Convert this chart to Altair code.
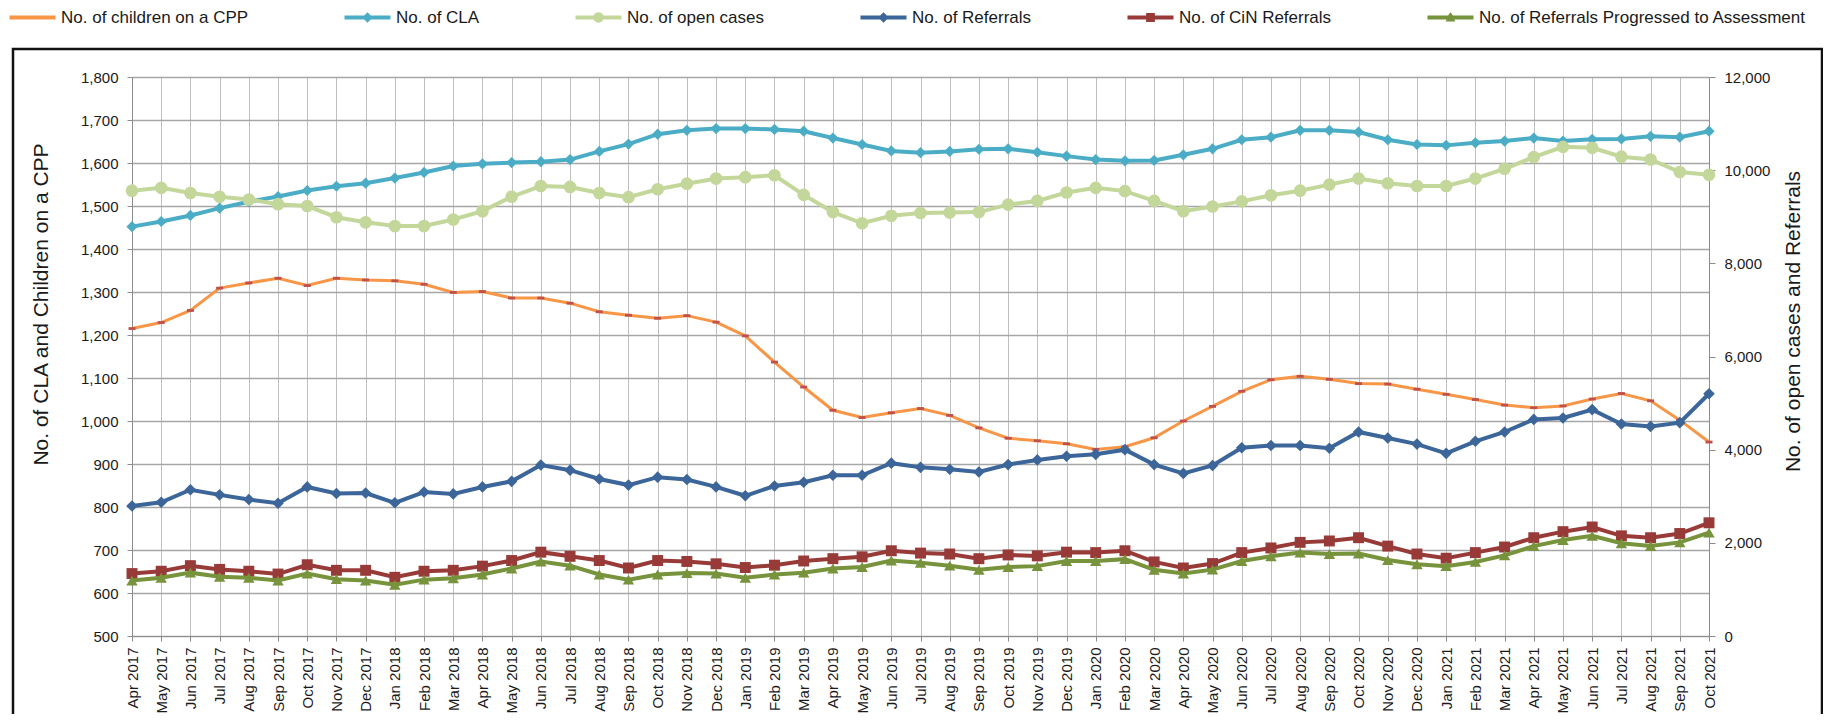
import altair as alt
import pandas as pd

FONT = "Liberation Sans"

months = [
    "Apr 2017", "May 2017", "Jun 2017", "Jul 2017", "Aug 2017", "Sep 2017", "Oct 2017", "Nov 2017", "Dec 2017",
    "Jan 2018", "Feb 2018", "Mar 2018", "Apr 2018", "May 2018", "Jun 2018", "Jul 2018", "Aug 2018", "Sep 2018",
    "Oct 2018", "Nov 2018", "Dec 2018",
    "Jan 2019", "Feb 2019", "Mar 2019", "Apr 2019", "May 2019", "Jun 2019", "Jul 2019", "Aug 2019", "Sep 2019",
    "Oct 2019", "Nov 2019", "Dec 2019",
    "Jan 2020", "Feb 2020", "Mar 2020", "Apr 2020", "May 2020", "Jun 2020", "Jul 2020", "Aug 2020", "Sep 2020",
    "Oct 2020", "Nov 2020", "Dec 2020",
    "Jan 2021", "Feb 2021", "Mar 2021", "Apr 2021", "May 2021", "Jun 2021", "Jul 2021", "Aug 2021", "Sep 2021",
    "Oct 2021",
]

# left axis series
cpp = [1215, 1229, 1257, 1309, 1321, 1332, 1315, 1332, 1328,
       1326, 1318, 1299, 1301, 1286, 1286, 1274, 1254, 1246, 1239, 1245, 1230,
       1198, 1137, 1079, 1025, 1008, 1019, 1029, 1013, 984, 960, 954, 947,
       934, 940, 961, 1000, 1034, 1069, 1096, 1104, 1097, 1087, 1086, 1074,
       1062, 1050, 1037, 1031, 1035, 1051, 1064, 1047, 1002, 951]
cla = [1452, 1464, 1478, 1495, 1510, 1522, 1536, 1546, 1553,
       1565, 1578, 1593, 1598, 1601, 1603, 1608, 1627, 1644, 1667, 1676, 1680,
       1680, 1678, 1674, 1658, 1643, 1628, 1624, 1627, 1632, 1633, 1625, 1616,
       1608, 1605, 1606, 1619, 1633, 1654, 1660, 1676, 1676, 1672, 1654, 1643,
       1641, 1647, 1651, 1658, 1651, 1655, 1656, 1662, 1660, 1674]

# right axis series
open_cases = [9560, 9620, 9510, 9430, 9370, 9270, 9230, 8990, 8880,
              8800, 8800, 8940, 9120, 9430, 9660, 9640, 9510, 9420, 9590, 9710, 9820,
              9850, 9890, 9470, 9100, 8860, 9020, 9080, 9090, 9100, 9260, 9340, 9520,
              9620, 9550, 9340, 9120, 9220, 9330, 9460, 9560, 9690, 9820, 9720, 9660,
              9660, 9820, 10030, 10280, 10500, 10480, 10290, 10230, 9960, 9900]
referrals = [2790, 2870, 3140, 3030, 2930, 2850, 3200, 3060, 3070,
             2860, 3090, 3050, 3200, 3320, 3670, 3560, 3370, 3240, 3410, 3360, 3200,
             3010, 3220, 3300, 3450, 3450, 3710, 3620, 3580, 3520, 3680, 3780, 3860,
             3900, 4000, 3680, 3490, 3660, 4040, 4090, 4090, 4030, 4380, 4250, 4120,
             3920, 4180, 4380, 4650, 4680, 4860, 4550, 4500, 4580, 5200]
cin_referrals = [1340, 1390, 1510, 1430, 1390, 1330, 1530, 1410, 1410,
                 1260, 1390, 1410, 1500, 1620, 1800, 1710, 1620, 1460, 1620, 1600, 1550,
                 1470, 1520, 1610, 1660, 1700, 1830, 1780, 1760, 1660, 1740, 1720, 1800,
                 1790, 1830, 1590, 1460, 1555, 1790, 1890, 2010, 2040, 2110, 1930, 1760,
                 1670, 1790, 1910, 2110, 2240, 2340, 2150, 2110, 2200, 2430]
progressed = [1190, 1250, 1360, 1270, 1250, 1190, 1340, 1220, 1190,
              1100, 1210, 1240, 1320, 1450, 1600, 1510, 1320, 1210, 1320, 1350, 1340,
              1250, 1320, 1360, 1450, 1480, 1620, 1570, 1510, 1420, 1480, 1500, 1610,
              1610, 1650, 1420, 1340, 1425, 1610, 1710, 1790, 1760, 1770, 1630, 1540,
              1500, 1590, 1730, 1930, 2060, 2150, 1990, 1930, 2010, 2220]

series_names = ["No. of children on a CPP", "No. of CLA", "No. of open cases",
                "No. of Referrals", "No. of CiN Referrals",
                "No. of Referrals Progressed to Assessment"]
series_values = [cpp, cla, open_cases, referrals, cin_referrals, progressed]
line_colors = ["#F79646", "#4BACC6", "#C4D79B", "#3C6699", "#983B38", "#77933C"]

left_ticks = [500, 600, 700, 800, 900, 1000, 1100, 1200, 1300, 1400, 1500, 1600, 1700, 1800]
right_ticks = [0, 2000, 4000, 6000, 8000, 10000, 12000]

rows = []
for name, vals in zip(series_names, series_values):
    for m, v in zip(months, vals):
        rows.append({"month": m, "series": name, "value": v})
df = pd.DataFrame(rows)

W, H = 1577, 559

x_enc = alt.X("month:O", sort=months, scale=alt.Scale(type="point", padding=0),
              axis=alt.Axis(title=None, labelAngle=-90, labelFontSize=15, labelPadding=6,
                            grid=True, gridColor="#BFBFBF", gridWidth=1,
                            domainColor="#8C8C8C", tickColor="#8C8C8C", tickSize=5,
                            labelColor="#1a1a1a", labelFont=FONT))

y_left = alt.Y("value:Q", scale=alt.Scale(domain=[500, 1800], nice=False, zero=False),
               axis=alt.Axis(values=left_ticks, format=",.0f", grid=True, gridColor="#A6A6A6",
                             gridWidth=1.3, domainColor="#8C8C8C", tickColor="#8C8C8C",
                             tickSize=5, labelPadding=9, labelFontSize=15,
                             labelColor="#1a1a1a", labelFont=FONT,
                             title="No. of CLA and Children on a  CPP", titleFontSize=21,
                             titleFontWeight="normal", titleFont=FONT, titleColor="#1a1a1a",
                             titleAngle=-90, titleX=-91, titleY=227, titleAlign="center",
                             titleBaseline="middle"))

y_right = alt.Y("value:Q", scale=alt.Scale(domain=[0, 12000], nice=False),
                axis=alt.Axis(orient="right", values=right_ticks, format=",.0f", grid=False,
                              domainColor="#8C8C8C", tickColor="#8C8C8C", tickSize=6,
                              labelPadding=9, labelFontSize=15, labelColor="#1a1a1a",
                              labelFont=FONT,
                              title="No. of open cases and Referrals", titleFontSize=21,
                              titleFontWeight="normal", titleFont=FONT, titleColor="#1a1a1a",
                              titleAngle=-90, titleX=84, titleY=244, titleAlign="center",
                              titleBaseline="middle"))

base = alt.Chart(df)

marker_specs = {
    "No. of children on a CPP": dict(shape="M-1,-0.4H1V0.4H-1Z", size=49, color="#C0504D"),
    "No. of CLA": dict(shape="diamond", size=125, color="#4BACC6"),
    "No. of open cases": dict(shape="circle", size=160, color="#C4D79B"),
    "No. of Referrals": dict(shape="diamond", size=135, color="#3C6699"),
    "No. of CiN Referrals": dict(shape="square", size=120, color="#983B38"),
    "No. of Referrals Progressed to Assessment": dict(shape="triangle-up", size=130, color="#77933C"),
}
line_widths = [3, 4, 4, 4, 4, 4]


def series_layers(name, color, lw, y_enc):
    sel = base.transform_filter(alt.datum.series == name)
    line = sel.mark_line(color=color, strokeWidth=lw).encode(x=x_enc, y=y_enc)
    spec = marker_specs[name]
    pts = sel.mark_point(filled=True, opacity=1, shape=spec["shape"], size=spec["size"],
                         color=spec["color"]).encode(x=x_enc, y=y_enc)
    return [line, pts]


# legend carrier (invisible marks; legend built from scales)
leg_paths = [
    "M-0.84,-0.075H0.84V0.075H-0.84Z",
    "M-0.84,-0.075H-0.12L0,-0.19L0.12,-0.075H0.84V0.075H0.12L0,0.19L-0.12,0.075H-0.84Z",
    "M-0.84,-0.075H-0.175A0.19,0.19 0 0 1 0.175,-0.075H0.84V0.075H0.175A0.19,0.19 0 0 1 -0.175,0.075H-0.84Z",
    "M-0.84,-0.075H-0.12L0,-0.19L0.12,-0.075H0.84V0.075H0.12L0,0.19L-0.12,0.075H-0.84Z",
    "M-0.84,-0.075H-0.16V-0.16H0.16V-0.075H0.84V0.075H0.16V0.16H-0.16V0.075H-0.84Z",
    "M-0.84,-0.075H-0.09L0,-0.19L0.09,-0.075H0.84V0.075H0.14L0.18,0.15H-0.18L-0.14,0.075H-0.84Z",
]
leg_df = pd.DataFrame({"series": series_names})
legend_def = alt.Legend(title=None, orient="none", legendX=-127, legendY=-87,
                        direction="horizontal", columns=6, gridAlign="none",
                        columnPadding=91, labelOffset=1, symbolSize=3000,
                        symbolOpacity=1, symbolStrokeWidth=0, labelFontSize=17,
                        labelFont=FONT, labelColor="#1a1a1a", labelLimit=400)
carrier = alt.Chart(leg_df).mark_point(filled=True, opacity=0).encode(
    x=alt.value(0), y=alt.value(0),
    color=alt.Color("series:N", sort=series_names,
                    scale=alt.Scale(domain=series_names, range=line_colors), legend=legend_def),
    shape=alt.Shape("series:N", sort=series_names,
                    scale=alt.Scale(domain=series_names, range=leg_paths), legend=legend_def),
)

frame = alt.Chart(pd.DataFrame({"a": [0]})).mark_rect(
    fillOpacity=0, stroke="#111111", strokeWidth=2.5
).encode(x=alt.value(-119), x2=alt.value(1690), y=alt.value(-28), y2=alt.value(H + 120))

left_layers = [frame]
for i in (0, 1):
    left_layers += series_layers(series_names[i], line_colors[i], line_widths[i], y_left)
left_layers.append(carrier)
left = alt.layer(*left_layers)

right_layers = []
for i in (2, 3, 4, 5):
    right_layers += series_layers(series_names[i], line_colors[i], line_widths[i], y_right)
right = alt.layer(*right_layers)

chart = alt.layer(left, right).resolve_scale(y="independent").properties(
    width=W, height=H,
    autosize=alt.AutoSizeParams(type="none"),
    padding={"left": 124, "top": 69, "right": 114, "bottom": 78},
).configure_view(stroke=None).configure(background="white")

chart.save("out.html", embed_options={"renderer": "svg", "actions": False})
